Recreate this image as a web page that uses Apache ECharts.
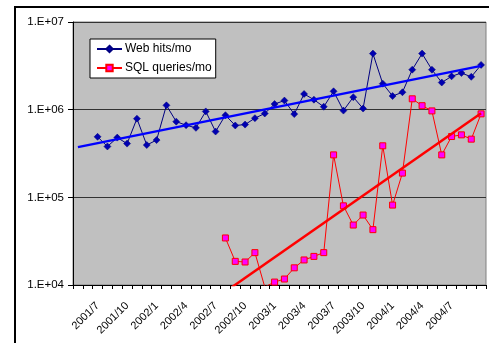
<!DOCTYPE html>
<html>
<head>
<meta charset="utf-8">
<script src="https://cdn.jsdelivr.net/npm/echarts@6/dist/echarts.min.js"></script>
<style>
html,body{margin:0;padding:0;background:#fff;}
#chart{width:489px;height:343px;}
</style>
</head>
<body>
<div id="chart"></div>
<script>
// Categories (months), 2001/5 .. 2004/10
const months = [
  '2001/5','2001/6','2001/7','2001/8','2001/9','2001/10','2001/11','2001/12',
  '2002/1','2002/2','2002/3','2002/4','2002/5','2002/6','2002/7','2002/8','2002/9','2002/10','2002/11','2002/12',
  '2003/1','2003/2','2003/3','2003/4','2003/5','2003/6','2003/7','2003/8','2003/9','2003/10','2003/11','2003/12',
  '2004/1','2004/2','2004/3','2004/4','2004/5','2004/6','2004/7','2004/8','2004/9','2004/10'
];
// Labelled months
const tickLabels = ['2001/7','2001/10','2002/1','2002/4','2002/7','2002/10','2003/1','2003/4','2003/7','2003/10','2004/1','2004/4','2004/7'];

const webHits = [
  null, null,
  490000, 380000, 480000, 410000, 790000, 395000, 450000, 1120000, 730000, 665000,
  620000, 955000, 563000, 865000, 660000, 676000, 800000, 904000, 1160000, 1270000,
  890000, 1510000, 1300000, 1080000, 1620000, 976000, 1390000, 1030000, 4360000, 1980000,
  1430000, 1580000, 2860000, 4360000, 2860000, 2040000, 2400000, 2620000, 2370000, 3240000
];
const sqlQueries = [
  null, null, null, null, null, null, null, null, null, null,
  null, null, null, null, null,
  34400, 18600, 18300, 23400, 9500, 10800, 11700, 15700, 19300, 21200,
  23400, 305000, 80000, 48300, 62800, 42800, 387000, 81600, 189000, 1330000,
  1110000, 968000, 305000, 494000, 516000, 461000, 896000
];
// Exponential trend lines (straight on log scale): [category, value] at both ends
const webTrend = [['2001/5', 374000], ['2004/10', 3160000]];
const sqlTrend = [['2001/5', 562], ['2004/10', 912000]];

const yTicks = ['1.E+04','1.E+05','1.E+06','1.E+07'];

const font = "'Liberation Sans', Arial, sans-serif";
const chart = echarts.init(document.getElementById('chart'), null, {renderer: 'canvas'});
chart.setOption({
  animation: false,
  backgroundColor: '#ffffff',
  textStyle: {fontFamily: font, color: '#000'},
  graphic: [{
    type: 'rect', silent: true, z: -10,
    shape: {x: 15, y: 7, width: 500, height: 400},
    style: {fill: '#fff', stroke: '#000', lineWidth: 2}
  }],
  grid: {
    left: 73, top: 22, width: 413, height: 263,
    show: true, backgroundColor: '#C0C0C0', borderColor: '#808080', borderWidth: 1
  },
  legend: {
    left: 90, top: 39, orient: 'vertical',
    data: ['Web hits/mo', 'SQL queries/mo'],
    backgroundColor: '#fff', borderColor: '#000', borderWidth: 1,
    padding: [4, 4, 4, 6], itemGap: 7, itemWidth: 25, itemHeight: 8,
    textStyle: {fontFamily: font, fontSize: 12, color: '#000', padding: [0, 0, 0, -2]}
  },
  xAxis: {
    type: 'category', data: months, boundaryGap: true,
    axisLine: {lineStyle: {color: '#000', width: 1}},
    axisTick: {show: true, interval: 0, length: 4, lineStyle: {color: '#000'}},
    axisLabel: {
      rotate: 45, fontSize: 11, fontFamily: font, color: '#000', margin: 19,
      interval: function (i, v) { return tickLabels.indexOf(v) >= 0; }
    },
    splitLine: {show: false}
  },
  yAxis: {
    type: 'log', logBase: 10, min: 10000, max: 10000000,
    axisLine: {show: true, lineStyle: {color: '#000'}},
    axisTick: {show: true, length: 5, lineStyle: {color: '#000'}},
    axisLabel: {
      fontSize: 11.5, fontFamily: font, color: '#000', margin: 9,
      formatter: function (v) {
        const e = Math.round(Math.log10(v));
        const s = '1.E+' + (e < 10 ? '0' + e : e);
        return yTicks.indexOf(s) >= 0 ? s : '';
      }
    },
    splitLine: {show: true, lineStyle: {color: '#333', width: 1}},
    minorTick: {show: false}
  },
  series: [
    {
      name: 'Web hits/mo', type: 'line', data: webHits,
      symbol: 'diamond', symbolSize: 7, showAllSymbol: true, connectNulls: false,
      lineStyle: {color: '#000080', width: 1},
      itemStyle: {color: '#0000B0', borderColor: '#000080', borderWidth: 0.5},
      z: 3
    },
    {
      name: 'SQL queries/mo', type: 'line', data: sqlQueries,
      symbol: 'rect', symbolSize: 6, showAllSymbol: true, clip: true,
      lineStyle: {color: '#FF0000', width: 1},
      itemStyle: {color: '#FF00FF', borderColor: '#FF0000', borderWidth: 1},
      z: 3
    },
    {
      name: 'webTrend', type: 'line', data: webTrend, symbol: 'none', silent: true,
      lineStyle: {color: '#0000FF', width: 2.5}, z: 4
    },
    {
      name: 'sqlTrend', type: 'line', data: sqlTrend, symbol: 'none', silent: true, clip: true,
      lineStyle: {color: '#FF0000', width: 2.5}, z: 4
    }
  ]
});
</script>
</body>
</html>
